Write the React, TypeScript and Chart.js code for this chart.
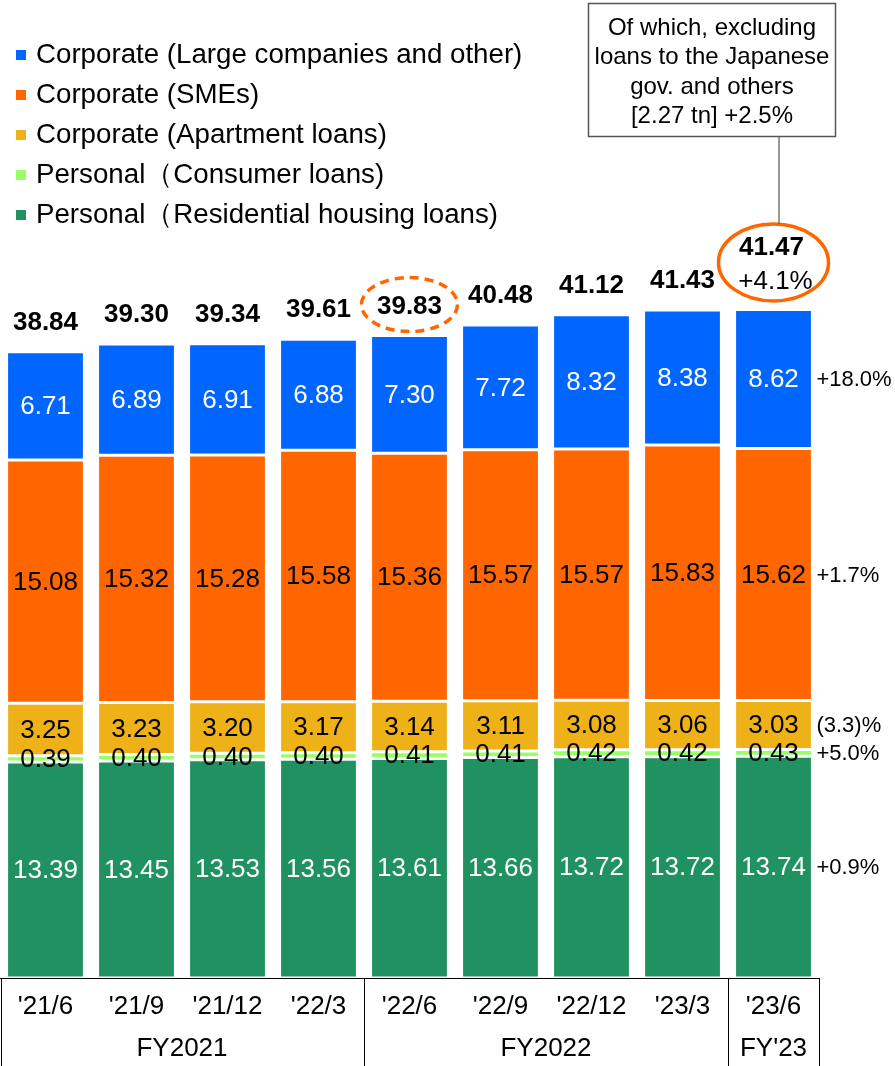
import React, { useEffect, useRef } from 'react';
import { Chart, registerables } from 'chart.js';

Chart.register(...registerables);

const FONT = 'Arial, "Liberation Sans", Helvetica, sans-serif';

const categories = ["'21/6", "'21/9", "'21/12", "'22/3", "'22/6", "'22/9", "'22/12", "'23/3", "'23/6"];
const largeCompanies = [6.71, 6.89, 6.91, 6.88, 7.30, 7.72, 8.32, 8.38, 8.62];
const smes = [15.08, 15.32, 15.28, 15.58, 15.36, 15.57, 15.57, 15.83, 15.62];
const apartmentLoans = [3.25, 3.23, 3.20, 3.17, 3.14, 3.11, 3.08, 3.06, 3.03];
const consumerLoans = [0.39, 0.40, 0.40, 0.40, 0.41, 0.41, 0.42, 0.42, 0.43];
const housingLoans = [13.39, 13.45, 13.53, 13.56, 13.61, 13.66, 13.72, 13.72, 13.74];
const totals = [38.84, 39.30, 39.34, 39.61, 39.83, 40.48, 41.12, 41.43, 41.47];
// change rates, bottom series first (same order as datasets)
const changeRates = ['+0.9%', '+5.0%', '(3.3)%', '+1.7%', '+18.0%'];
const totalChange = '+4.1%';
const groupLabels = ['FY2021', 'FY2022', "FY'23"];
const groupStarts = [0, 4, 8];
const groupEnds = [3, 7, 8];
const calloutLines = ['Of which, excluding', 'loans to the Japanese', 'gov. and others', '[2.27 tn] +2.5%'];

const seriesLabels = [
  'Personal（Residential housing loans)',
  'Personal（Consumer loans)',
  'Corporate (Apartment loans)',
  'Corporate (SMEs)',
  'Corporate (Large companies and other)',
];
const seriesColors = ['#209160', '#99FF66', '#EFB118', '#FF6600', '#0066FF'];
const labelColors = ['#ffffff', '#000000', '#000000', '#000000', '#ffffff'];
const seriesData = [housingLoans, consumerLoans, apartmentLoans, smes, largeCompanies];

const overlayPlugin = {
  id: 'overlay',
  afterDatasetsDraw(chart: any) {
    const ctx = chart.ctx;
    const xScale = chart.scales.x;
    const area = chart.chartArea;
    ctx.save();
    ctx.textAlign = 'center';
    ctx.textBaseline = 'middle';

    // segment labels
    chart.data.datasets.forEach((ds: any, i: number) => {
      const meta = chart.getDatasetMeta(i);
      meta.data.forEach((el: any, j: number) => {
        const p = el.getProps(['x', 'y', 'base'], true);
        ctx.font = `26px ${FONT}`;
        ctx.fillStyle = labelColors[i];
        ctx.fillText(ds.data[j].toFixed(2), p.x, (p.y + p.base) / 2 + 1);
      });
    });

    // totals
    const topMeta = chart.getDatasetMeta(chart.data.datasets.length - 1);
    topMeta.data.forEach((el: any, j: number) => {
      const p = el.getProps(['x', 'y'], true);
      ctx.fillStyle = '#000';
      ctx.font = `bold 26px ${FONT}`;
      if (j < totals.length - 1) {
        ctx.fillText(totals[j].toFixed(2), p.x, p.y - 29);
        if (j === 4) {
          ctx.save();
          ctx.strokeStyle = '#FF6600';
          ctx.lineWidth = 3.5;
          ctx.setLineDash([9, 6]);
          ctx.beginPath();
          ctx.ellipse(p.x, p.y - 31, 48, 27, 0, 0, Math.PI * 2);
          ctx.stroke();
          ctx.restore();
        }
      } else {
        ctx.fillText(totals[j].toFixed(2), p.x - 2, p.y - 62);
        ctx.font = `26px ${FONT}`;
        ctx.fillText(totalChange, p.x + 2, p.y - 28);
        ctx.save();
        ctx.strokeStyle = '#FF6600';
        ctx.lineWidth = 3.5;
        ctx.beginPath();
        ctx.ellipse(p.x, p.y - 47, 55, 38.5, 0, 0, Math.PI * 2);
        ctx.stroke();
        // connector to callout
        ctx.strokeStyle = '#555';
        ctx.lineWidth = 1.2;
        ctx.beginPath();
        ctx.moveTo(p.x + 5.5, 137);
        ctx.lineTo(p.x + 5.5, p.y - 47 - 38.5);
        ctx.stroke();
        ctx.restore();
      }
    });

    // change rates to the right of last bar
    chart.data.datasets.forEach((ds: any, i: number) => {
      const meta = chart.getDatasetMeta(i);
      const el = meta.data[meta.data.length - 1];
      const p = el.getProps(['x', 'y', 'base', 'width'], true);
      ctx.font = `22px ${FONT}`;
      ctx.fillStyle = '#000';
      ctx.textAlign = 'left';
      ctx.fillText(changeRates[i], p.x + p.width / 2 + 4, (p.y + p.base) / 2 + 1);
      ctx.textAlign = 'center';
    });

    // group separators and labels
    const bottom = area.bottom;
    const H = chart.height;
    const boundary = (a: number) =>
      a < 0 ? xScale.left : a >= categories.length - 1 ? xScale.right : (xScale.getPixelForValue(a) + xScale.getPixelForValue(a + 1)) / 2;
    ctx.strokeStyle = '#000';
    ctx.lineWidth = 1;
    const lines = [boundary(-1) + 0.5];
    groupEnds.forEach((e) => lines.push(boundary(e)));
    lines.forEach((lx) => {
      ctx.beginPath();
      ctx.moveTo(Math.round(lx) + 0.5, bottom);
      ctx.lineTo(Math.round(lx) + 0.5, H);
      ctx.stroke();
    });
    ctx.font = `26px ${FONT}`;
    ctx.fillStyle = '#000';
    groupLabels.forEach((g, k) => {
      const l = boundary(groupStarts[k] - 1);
      const r = boundary(groupEnds[k]);
      ctx.fillText(g, (l + r) / 2, 1049);
    });

    // legend (top series first)
    ctx.textAlign = 'left';
    ctx.font = `27.7px ${FONT}`;
    for (let k = 0; k < seriesLabels.length; k++) {
      const i = seriesLabels.length - 1 - k;
      const cy = 54 + k * 40;
      ctx.fillStyle = seriesColors[i];
      ctx.fillRect(16, cy - 4, 10, 10);
      ctx.fillStyle = '#000';
      ctx.fillText(seriesLabels[i], 36, cy + 1);
    }

    // callout box
    ctx.fillStyle = '#fff';
    ctx.fillRect(588, 3, 248, 134);
    ctx.strokeStyle = '#555';
    ctx.lineWidth = 1.5;
    ctx.strokeRect(588.5, 3.5, 247, 133);
    ctx.fillStyle = '#000';
    ctx.textAlign = 'center';
    ctx.font = `24px ${FONT}`;
    calloutLines.forEach((t, k) => ctx.fillText(t, 712, 28 + k * 29.5));

    ctx.restore();
  },
};

export default function App() {
  const ref = useRef<HTMLCanvasElement | null>(null);
  useEffect(() => {
    if (!ref.current) return;
    const chart = new Chart(ref.current, {
      type: 'bar',
      data: {
        labels: categories,
        datasets: seriesData.map((d, i) => ({
          label: seriesLabels[i],
          data: d,
          backgroundColor: seriesColors[i],
          borderColor: '#ffffff',
          borderWidth: 1.5,
          borderSkipped: false,
          categoryPercentage: 1,
          barPercentage: 0.855,
        })),
      },
      options: {
        responsive: false,
        animation: false,
        devicePixelRatio: 1,
        layout: { padding: { top: 10, left: 0, right: 76, bottom: 0 } },
        plugins: { legend: { display: false }, tooltip: { enabled: false } },
        scales: {
          x: {
            stacked: true,
            grid: { display: false, drawTicks: false },
            border: { display: true, color: '#000', width: 1 },
            ticks: { color: '#000', font: { family: FONT, size: 26 }, padding: 13, maxRotation: 0, autoSkip: false },
            afterFit: (scale: any) => {
              scale.height = 88;
            },
          },
          y: {
            stacked: true,
            display: false,
            min: 0,
            max: 60,
          },
        },
      },
      plugins: [overlayPlugin],
    });
    return () => chart.destroy();
  }, []);
  return (
    <div style={{ position: 'absolute', left: 0, top: 0, width: 895, height: 1066, background: '#fff' }}>
      <canvas ref={ref} width={895} height={1066} />
    </div>
  );
}
